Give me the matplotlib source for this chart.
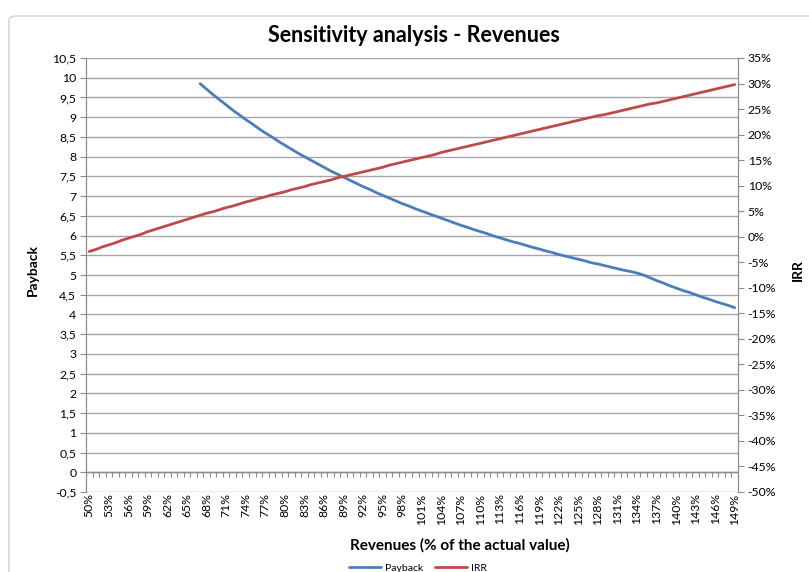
import matplotlib
matplotlib.use("Agg")
import matplotlib.pyplot as plt
import numpy as np
from matplotlib.patches import FancyBboxPatch

plt.rcParams['font.family'] = ['Lato', 'DejaVu Sans']

# ---- data ----
revenue_pct = list(range(50, 150))   # categories 50% .. 149%
category_labels = [f"{p}%" for p in revenue_pct]

payback = [None] * 17 + [
    9.85, 9.71, 9.57, 9.44, 9.31, 9.18, 9.06, 8.94, 8.83, 8.71,   # 67-76
    8.60, 8.50, 8.39, 8.29, 8.19, 8.09, 8.00, 7.91, 7.82, 7.73,   # 77-86
    7.64, 7.56, 7.48, 7.40, 7.32, 7.24, 7.17, 7.09, 7.02, 6.95,   # 87-96
    6.88, 6.81, 6.75, 6.68, 6.62, 6.56, 6.50, 6.44, 6.38, 6.32,   # 97-106
    6.26, 6.21, 6.15, 6.10, 6.05, 5.99, 5.94, 5.89, 5.84, 5.80,   # 107-116
    5.75, 5.70, 5.66, 5.61, 5.57, 5.52, 5.48, 5.44, 5.40, 5.36,   # 117-126
    5.31, 5.28, 5.24, 5.20, 5.16, 5.12, 5.09, 5.05, 5.00, 4.93,   # 127-136
    4.86, 4.80, 4.73, 4.67, 4.61, 4.56, 4.50, 4.44, 4.39, 4.33,   # 137-146
    4.28, 4.23, 4.17,                                             # 147-149
]

irr = [
    -2.9, -2.5, -2.0, -1.6, -1.2, -0.7, -0.3, 0.1, 0.5, 1.0,      # 50-59
    1.4, 1.8, 2.2, 2.6, 3.0, 3.4, 3.8, 4.2, 4.6, 4.9,             # 60-69
    5.3, 5.7, 6.0, 6.4, 6.8, 7.1, 7.5, 7.8, 8.2, 8.5,             # 70-79
    8.8, 9.2, 9.5, 9.8, 10.2, 10.5, 10.8, 11.1, 11.5, 11.8,       # 80-89
    12.1, 12.4, 12.7, 13.0, 13.3, 13.6, 14.0, 14.3, 14.6, 14.9,   # 90-99
    15.2, 15.5, 15.8, 16.1, 16.5, 16.8, 17.1, 17.4, 17.7, 18.0,   # 100-109
    18.3, 18.6, 18.9, 19.2, 19.5, 19.8, 20.1, 20.4, 20.7, 21.0,   # 110-119
    21.3, 21.6, 21.9, 22.2, 22.5, 22.8, 23.1, 23.4, 23.7, 23.9,   # 120-129
    24.2, 24.5, 24.8, 25.1, 25.4, 25.7, 26.0, 26.2, 26.5, 26.8,   # 130-139
    27.1, 27.4, 27.7, 28.0, 28.3, 28.6, 28.9, 29.2, 29.5, 29.8,   # 140-149
]

left_ticks = [i * 0.5 for i in range(-1, 22)]
right_ticks = list(range(-50, 40, 5))

title = "Sensitivity analysis - Revenues"
xlabel = "Revenues (% of the actual value)"

# ---- figure ----
W, H = 809, 572
fig = plt.figure(figsize=(W / 100, H / 100), dpi=100)
fig.patch.set_facecolor("white")

# chart border (cropped on right/bottom)
border = FancyBboxPatch((9 / W, -0.05), 1.2, (H - 16) / H + 0.05,
                        boxstyle="round,pad=0,rounding_size=0.008",
                        transform=fig.transFigure, fill=False,
                        edgecolor="#d0d0d0", linewidth=1.0)
fig.patches.append(border)

left, right, top, bottom = 86, 738, 58, 492
ax = fig.add_axes([left / W, 1 - bottom / H, (right - left) / W, (bottom - top) / H])
ax2 = ax.twinx()

x = np.arange(len(revenue_pct))
pb = np.array([np.nan if v is None else v for v in payback])

grid_c = "#a6a6a6"
ax.set_ylim(-0.5, 10.5)
ax.set_xlim(-0.5, len(revenue_pct) - 0.5)
for yv in left_ticks:
    ax.axhline(yv, color=grid_c, lw=1.0, zorder=1)

# horizontal category axis at 0 with tick marks
ax.axhline(0, color="#8c8c8c", lw=1.0, zorder=2)
ax.vlines(np.arange(len(revenue_pct) + 1) - 0.5, -0.13, 0, color="#8c8c8c", lw=0.8, zorder=2)

ax.plot(x, pb, color="#4a7ebb", lw=2.0, solid_capstyle="round", zorder=4, label="Payback")
ax2.plot(x, irr, color="#be4b48", lw=2.0, solid_capstyle="round", zorder=4, label="IRR")

ax.set_yticks(left_ticks)
ax.set_yticklabels([("%g" % v).replace(".", ",") for v in left_ticks])
ax2.set_ylim(-50, 35)
ax2.set_yticks(right_ticks)
ax2.set_yticklabels([f"{v}%" for v in right_ticks])

ax.set_xticks(x[::3])
ax.set_xticklabels(category_labels[::3], rotation=90, fontsize=8.8)
ax.tick_params(axis="x", length=0, pad=1)
ax.tick_params(axis="y", length=4, width=0.8, color="#8c8c8c", labelsize=8.8, pad=3)
ax2.tick_params(axis="y", length=4, width=0.8, color="#8c8c8c", labelsize=8.8, pad=3)

for a in (ax, ax2):
    for s in ("top", "bottom"):
        a.spines[s].set_visible(False)
    a.spines["left"].set_color("#8c8c8c")
    a.spines["right"].set_color("#8c8c8c")
ax.patch.set_visible(False)

fig.text(414 / W, 1 - 36 / H, title, ha="center", va="center", fontsize=15.5, fontweight="bold")
fig.text(33 / W, 1 - 270 / H, "Payback", ha="center", va="center", rotation=90, fontsize=10, fontweight="bold")
fig.text(798 / W, 1 - 270 / H, "IRR", ha="center", va="center", rotation=90, fontsize=10, fontweight="bold")
fig.text(460 / W, 1 - 545 / H, xlabel, ha="center", va="center", fontsize=11, fontweight="bold")

h1, l1 = ax.get_legend_handles_labels()
h2, l2 = ax2.get_legend_handles_labels()
fig.legend(h1 + h2, l1 + l2, loc="center", bbox_to_anchor=(418 / W, 1 - 568 / H), ncol=2,
           frameon=False, fontsize=7.5, handlelength=3.0, columnspacing=1.2, handletextpad=0.4)

fig.savefig("out.png", dpi=100)
